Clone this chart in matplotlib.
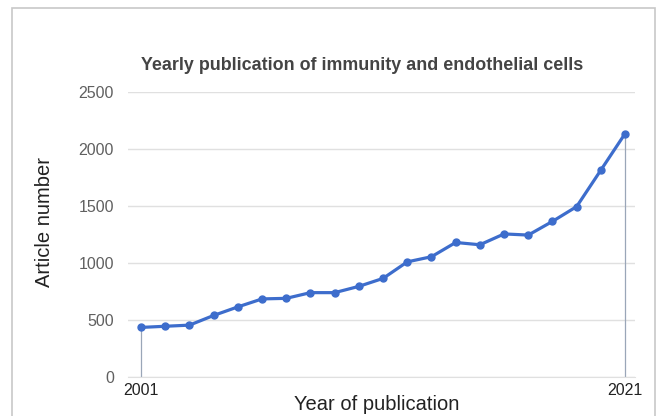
import matplotlib
matplotlib.use('Agg')
import matplotlib.pyplot as plt
from matplotlib.patches import Rectangle

# yearly article counts
years = list(range(2001, 2022))
articles = [435, 445, 455, 540, 615, 685, 690, 740, 740, 795, 865,
            1010, 1055, 1180, 1160, 1255, 1245, 1365, 1495, 1815, 2135]
yticks = [0, 500, 1000, 1500, 2000, 2500]
xticks = [2001, 2021]

plt.rcParams['font.family'] = ['Liberation Sans', 'DejaVu Sans']

fig = plt.figure(figsize=(6.63, 4.16), dpi=100)
fig.patch.set_facecolor('white')

# gray frame around the chart card
fig.patches.append(Rectangle((12 / 663, -0.05), (655 - 12) / 663, 1.05 - 8 / 416,
                             transform=fig.transFigure, fill=False,
                             edgecolor='#c8c8c8', linewidth=1.2))

ax = fig.add_axes([128 / 663, 1 - 377 / 416, (635 - 128) / 663, (377 - 92) / 416])

line_color = '#3d6dcc'
ax.plot(years, articles, color=line_color, linewidth=2.3, marker='o',
        markersize=5, solid_joinstyle='round', zorder=3)

# drop lines at first and last point
ax.vlines([years[0], years[-1]], 0, [articles[0], articles[-1]],
          color='#9aa6b8', linewidth=0.9, zorder=2)

ax.set_xlim(2000.46, 2021.41)
ax.set_ylim(0, 2500)
ax.set_yticks(yticks)
ax.set_xticks(xticks)
ax.set_xticklabels([str(x) for x in xticks])
ax.grid(axis='y', color='#e0e0e0', linewidth=1)
ax.set_axisbelow(True)
for s in ['top', 'right', 'left']:
    ax.spines[s].set_visible(False)
ax.spines['bottom'].set_color('#e0e0e0')
ax.tick_params(axis='y', length=0, pad=10, labelsize=11.5, labelcolor='#606060')
ax.tick_params(axis='x', length=0, pad=4, labelsize=11.5, labelcolor='#222222')

fig.text(362 / 663, 1 - 65 / 416, 'Yearly publication of immunity and endothelial cells',
         ha='center', va='center', fontsize=12.9, fontweight='bold', color='#444444')
fig.text(45 / 663, 1 - 222 / 416, 'Article number', rotation=90,
         ha='center', va='center', fontsize=14.5, color='#222222')
fig.text(377 / 663, 1 - 405 / 416, 'Year of publication',
         ha='center', va='center', fontsize=14.5, color='#222222')

fig.savefig('out.png', dpi=100)
